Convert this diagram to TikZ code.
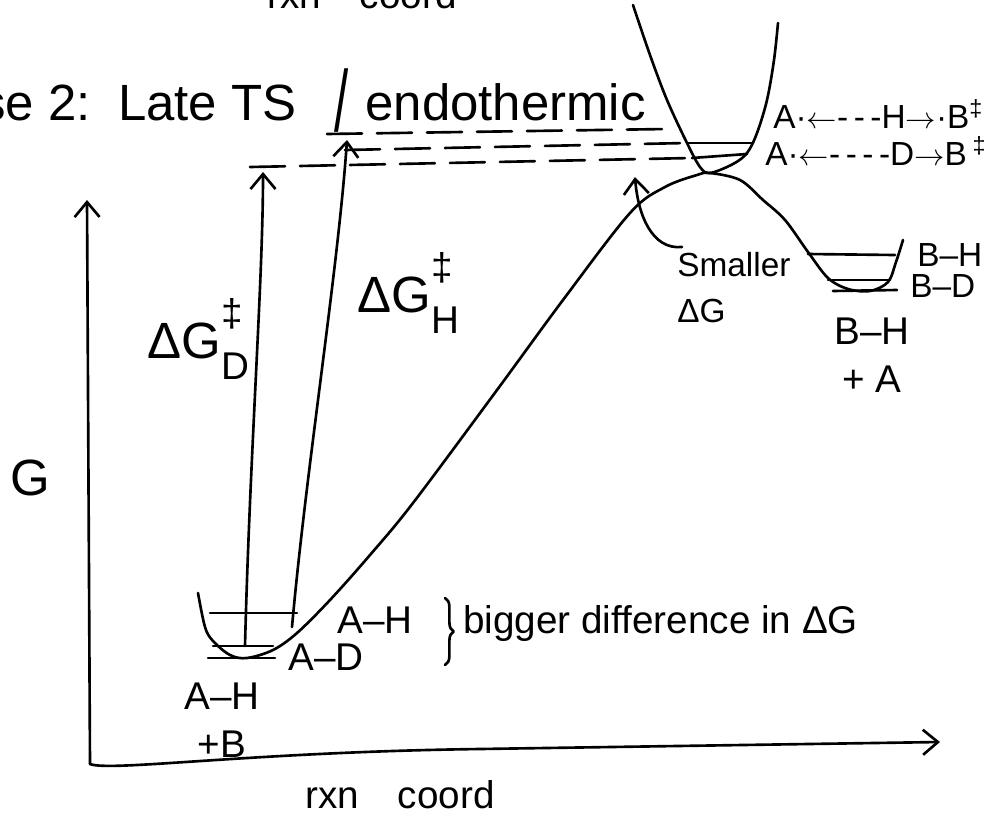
\documentclass[tikz,border=0pt]{standalone}
\usepackage{fontspec}
\setmainfont{Liberation Sans}
\usetikzlibrary{arrows.meta, decorations.pathreplacing}

\newcommand{\hwXL}{\fontsize{29}{34}\selectfont}
\newcommand{\hwL}{\fontsize{22}{27}\selectfont}
\newcommand{\hwM}{\fontsize{19}{26}\selectfont}
% barrier label: Delta G with double dagger above and isotope below
\newcommand{\barrier}[1]{ΔG\rlap{\raisebox{0.62em}{\hwL ‡}}\raisebox{-0.42em}{\hwL #1}}

\begin{document}
\begin{tikzpicture}[x=0.02cm, y=-0.02cm,
  >={Straight Barb[length=0.3cm, width=0.5cm]},
  ink/.style={line width=1.5pt, line cap=round, line join=round},
  tslevel/.style={ink, dash pattern=on 0.7cm off 0.3cm},
  lbl/.style={inner sep=0pt}]

  \useasboundingbox (0,0) rectangle (997,825);

  % axes
  \coordinate (orig) at (90,764);
  \coordinate (ytip) at (87,200);
  \coordinate (xtip) at (940,742);
  \draw[ink, ->] (orig) -- (ytip);
  \draw[ink, ->] (orig) .. controls (110,772) and (250,752) .. (480,749) -- (xtip);

  % free energy curve: A-H + B  ->  TS  ->  B-H + A
  \draw[ink] plot[smooth, tension=0.55] coordinates {
    (198,593) (205,627) (213,641) (230,655) (247,658) (273,650) (297,633)
    (330,600) (370,555) (413,503) (497,390) (563,300) (630,213) (665,187)
    (697,175) (710,173) (740,180) (763,200) (785,220) (808,252) (828,278)
    (848,289) (870,291) (888,282) (896,262) (903,240)};

  % well at the TS
  \draw[ink] plot[smooth, tension=0.55] coordinates {
    (633,5) (650,55) (667,100) (687,143) (700,167) (710,173) (733,164)
    (747,153) (757,133) (767,100) (774,60) (778,23)};

  % levels, reactant well
  \coordinate (aHl) at (210,613);
  \coordinate (aHr) at (297,613);
  \coordinate (aDl) at (213,646);
  \coordinate (aDr) at (273,646);
  \draw[ink] (aHl) -- (aHr);
  \draw[ink] (aDl) -- (aDr);
  \draw[ink] (208,658) -- (275,658);

  % levels, product well
  \draw[ink] (808,254) -- (895,255);
  \draw[ink] (828,280) -- (890,280);
  \draw[ink] (833,291) -- (897,290);

  % levels, TS well
  \coordinate (tsHw) at (687,143);
  \coordinate (tsDw) at (692,158);
  \draw[ink] (tsHw) -- (753,143);
  \draw[ink] (tsDw) -- (747,154);

  % TS levels carried over
  \coordinate (tsH) at (347,140);
  \coordinate (tsD) at (263,172);
  \draw[tslevel] (327,134) -- (667,129);
  \draw[tslevel] (345,150) -- (tsHw);
  \draw[tslevel] (250,167) -- (tsDw);

  % barriers
  \draw[ink, ->] (245,646) .. controls (250,450) and (263,280) .. (tsD);
  \draw[ink, ->] (292,627) .. controls (306,470) and (338,270) .. (tsH);

  % title
  \node[lbl, anchor=base east, font=\hwXL] (title) at (297,120) {Case 2:\, Late TS};
  \node[lbl, font=\hwXL] (slash) at (342,101) {\scalebox{1}[1.7]{/}};
  \node[lbl, anchor=base west, font=\hwXL] (endo) at (365,120) {endothermic};
  \node[lbl, anchor=base, font=\hwL] (toplbl) at (362,8) {rxn\quad coord};

  % axis labels
  \node[lbl, font=\hwXL] (glbl) at (30,478) {G};
  \node[lbl, anchor=base, font=\hwL] (xlbl) at (400,808) {rxn\quad coord};

  % barrier labels
  \node[lbl, anchor=base west, font=\hwXL] (dGD) at (147,358) {\barrier{D}};
  \node[lbl, anchor=base west, font=\hwXL] (dGH) at (357,312) {\barrier{H}};

  % reactant side
  \node[lbl, font=\hwL] (aH) at (375,620) {A–H};
  \node[lbl, font=\hwL] (aD) at (326,657) {A–D};
  \node[lbl, font=\hwL, align=center] (react) at (222,720) {A–H\\+B};
  \draw[ink, decorate, decoration={brace, amplitude=5pt}] (445,598) -- (445,665);
  \node[lbl, anchor=base west, font=\hwL] (big) at (463,633) {bigger difference in ΔG};

  % TS side
  \node[lbl, anchor=base west, font=\hwM] (tsHtxt) at (773,128)
    {A·$\leftarrow$-\,-\,-H$\rightarrow$·B\textsuperscript{‡}};
  \node[lbl, anchor=base west, font=\hwM] (tsDtxt) at (765,165)
    {A·$\leftarrow$-\,-\,-\,-D$\rightarrow$B\,\textsuperscript{‡}};
  \node[lbl, anchor=north west, align=left, font=\hwM] (small) at (677,252) {Smaller\\ΔG};
  \draw[ink, ->] (682,247) .. controls (652,250) and (638,215) .. (635,177);

  % product side
  \node[lbl, anchor=west, font=\hwM] (bH) at (917,255) {B–H};
  \node[lbl, anchor=west, font=\hwM] (bD) at (910,286) {B–D};
  \node[lbl, font=\hwL, align=center] (prod) at (872,355) {B–H\\+ A};

\end{tikzpicture}
\end{document}
